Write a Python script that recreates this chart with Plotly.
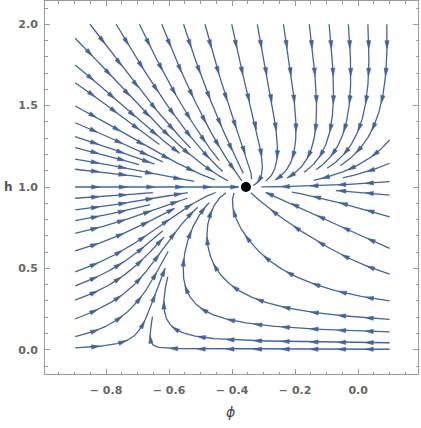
import numpy as np
import plotly.graph_objects as go

# fixed points of the flow
node_point = (-0.356, 1.0)
saddle_phi = -0.67

# phi-nullcline shape, estimated from where streamlines turn vertical
phi0_gain = 0.31
phi0_pow = 1.4

# relative h-rate estimated from streamline slopes across the picture
rate_phi = [-0.9, -0.4, 0.1]
rate_h = [0.0, 0.15, 0.3, 0.6, 1.0, 1.3, 2.0]
rate_table = [
    [1.6, 1.3, 0.9, 0.9, 0.9, 1.0, 1.1],
    [0.3, 0.6, 1.0, 1.5, 1.8, 2.2, 2.6],
    [0.2, 0.45, 0.9, 2.2, 2.0, 2.0, 2.0],
]

# where the streamlines start
left_phi = -0.898
left_h = [1.914, 1.75, 1.641, 1.498, 1.395, 1.309, 1.242, 1.172, 1.109, 1.0,
          0.931, 0.859, 0.793, 0.715, 0.607, 0.479, 0.393, 0.305, 0.189, 0.080, 0.012]
top_h = 2.0
top_phi = [-0.851, -0.768, -0.694, -0.623, -0.554, -0.486, -0.401, -0.320,
           -0.237, -0.155, -0.092, -0.031, 0.031, 0.091]
right_phi = 0.1
right_h = [1.289, 1.146, 1.033, 0.95, 0.817, 0.623, 0.465, 0.30, 0.187, 0.11, 0.043, 0.003]

x_ticks = [-0.8, -0.6, -0.4, -0.2, 0.0]
x_ticktext = ['\u2212 0.8', '\u2212 0.6', '\u2212 0.4', '\u2212 0.2', '0.0']
y_ticks = [0.0, 0.5, 1.0, 1.5, 2.0]
y_ticktext = ['0.0', '0.5', '1.0', '1.5', '2.0']

x_range = [-0.9937, 0.19]
y_range = [-0.149, 2.143]
domain = [-0.9, 0.1, 0.0, 2.0]

W, H = 421, 428
M = dict(l=45, r=3, t=1, b=54)
SX = (W - M['l'] - M['r']) / (x_range[1] - x_range[0])
SY = (H - M['t'] - M['b']) / (y_range[1] - y_range[0])

STREAM = '#44639b'
STEP = 1.2
SEP = 5.5

rate_rows = np.array(rate_table)


def rate(p, h):
    col = [np.interp(h, rate_h, row) for row in rate_rows]
    return np.interp(p, rate_phi, col)


def velocity(p, h):
    hp = max(h, 0.0)
    phi0 = saddle_phi + phi0_gain * hp ** phi0_pow
    return phi0 - p, rate(p, hp) * hp * (1 - hp)


def direction(p, h):
    u, v = velocity(p, h)
    u, v = u * SX, v * SY
    n = np.hypot(u, v)
    if n < 1e-9:
        return None
    return u / n, v / n


grid = {}


def near_other(px, py):
    cx, cy = int(px // SEP), int(py // SEP)
    for i in (-1, 0, 1):
        for j in (-1, 0, 1):
            for qx, qy in grid.get((cx + i, cy + j), []):
                if (qx - px) ** 2 + (qy - py) ** 2 < SEP ** 2:
                    return True
    return False


def trace(p, h):
    pts = [(p, h)]
    prev = None
    nx, ny = node_point[0] * SX, node_point[1] * SY
    for _ in range(5000):
        d = direction(p, h)
        if d is None:
            break
        pm, hm = p + d[0] * STEP / 2 / SX, h + d[1] * STEP / 2 / SY
        dm = direction(pm, hm)
        if dm is None:
            break
        if prev is not None and dm[0] * prev[0] + dm[1] * prev[1] < 0:
            break
        p2, h2 = p + dm[0] * STEP / SX, h + dm[1] * STEP / SY
        if not (domain[0] - 0.003 <= p2 <= domain[1] + 0.003 and domain[2] - 0.003 <= h2 <= domain[3] + 0.003):
            break
        if np.hypot(p2 * SX - nx, h2 * SY - ny) < 7:
            break
        if near_other(p2 * SX, h2 * SY):
            break
        p, h = p2, h2
        pts.append((p, h))
        prev = dm
    return pts


seeds = [(left_phi, 1.0), (-0.401, top_h), (right_phi, 1.033)]
seeds += [(left_phi, v) for v in left_h]
seeds += [(v, top_h) for v in top_phi]
seeds += [(right_phi, v) for v in right_h]

lines = []
done = set()
for s in seeds:
    if s in done:
        continue
    done.add(s)
    pts = trace(*s)
    if len(pts) * STEP < 8:
        continue
    lines.append(pts)
    for p, h in pts:
        key = (int(p * SX // SEP), int(h * SY // SEP))
        grid.setdefault(key, []).append((p * SX, h * SY))

lx, ly = [], []
ax, ay = [], []
for pts in lines:
    arr = np.array(pts)
    lx += list(arr[:, 0]) + [None]
    ly += list(arr[:, 1]) + [None]
    L = (len(arr) - 1) * STEP
    spots = list(np.arange(20, L - 3, 28))
    if not spots:
        spots = [L / 2]
    for s in spots:
        i = min(max(int(round(s / STEP)), 1), len(arr) - 2)
        dx = (arr[i + 1, 0] - arr[i - 1, 0]) * SX
        dy = (arr[i + 1, 1] - arr[i - 1, 1]) * SY
        n = np.hypot(dx, dy)
        dx, dy = dx / n, dy / n
        cx, cy = arr[i, 0] * SX, arr[i, 1] * SY
        tip = (cx + 4.0 * dx, cy + 4.0 * dy)
        b = (cx - 4.0 * dx, cy - 4.0 * dy)
        c1 = (b[0] - 2.1 * dy, b[1] + 2.1 * dx)
        c2 = (b[0] + 2.1 * dy, b[1] - 2.1 * dx)
        for q in (tip, c1, c2, tip):
            ax.append(q[0] / SX)
            ay.append(q[1] / SY)
        ax.append(None)
        ay.append(None)

fig = go.Figure()
fig.add_trace(go.Scatter(x=lx, y=ly, mode='lines', line=dict(color=STREAM, width=1.3),
                         hoverinfo='skip', showlegend=False))
fig.add_trace(go.Scatter(x=ax, y=ay, mode='lines', fill='toself', fillcolor=STREAM,
                         line=dict(color=STREAM, width=0.6), hoverinfo='skip', showlegend=False))
fig.add_trace(go.Scatter(x=[node_point[0]], y=[node_point[1]], mode='markers',
                         marker=dict(color='black', size=10), showlegend=False))

tickfont = dict(family='DejaVu Sans', size=11, color='#666666', weight='bold')
fig.update_layout(
    width=W, height=H, margin=M,
    plot_bgcolor='white', paper_bgcolor='white',
    showlegend=False,
    annotations=[
        dict(text='\u03d5', x=0.496, y=-0.102, xref='paper', yref='paper', showarrow=False,
             xanchor='center', yanchor='middle',
             font=dict(family='DejaVu Sans', size=14, color='#444444', style='italic')),
        dict(text='h', x=-0.099, y=0.501, xref='paper', yref='paper', showarrow=False,
             xanchor='center', yanchor='middle',
             font=dict(family='DejaVu Sans', size=12, color='#555555', weight='bold')),
    ],
)
fig.update_xaxes(
    range=x_range, tickvals=x_ticks, ticktext=x_ticktext, tickfont=tickfont,
    showgrid=False, zeroline=False, showline=True, linecolor='#9a9a9a', linewidth=1,
    mirror='allticks', ticks='inside', ticklen=5, tickcolor='#9a9a9a',
    minor=dict(dtick=0.05, tick0=0, ticks='inside', ticklen=2.5, tickcolor='#9a9a9a'),
    ticklabelstandoff=6, automargin=False,
)
fig.update_yaxes(
    range=y_range, tickvals=y_ticks, ticktext=y_ticktext, tickfont=tickfont,
    showgrid=False, zeroline=False, showline=True, linecolor='#9a9a9a', linewidth=1,
    mirror='allticks', ticks='inside', ticklen=5, tickcolor='#9a9a9a',
    minor=dict(dtick=0.1, tick0=0, ticks='inside', ticklen=2.5, tickcolor='#9a9a9a'),
    ticklabelstandoff=4, automargin=False,
)

# the page body has a default 8px margin; drop it so the figure sits at the corner
fig.write_html('out.html', config={'displayModeBar': False},
               post_script="document.body.style.margin='0';document.body.style.overflow='hidden';")
